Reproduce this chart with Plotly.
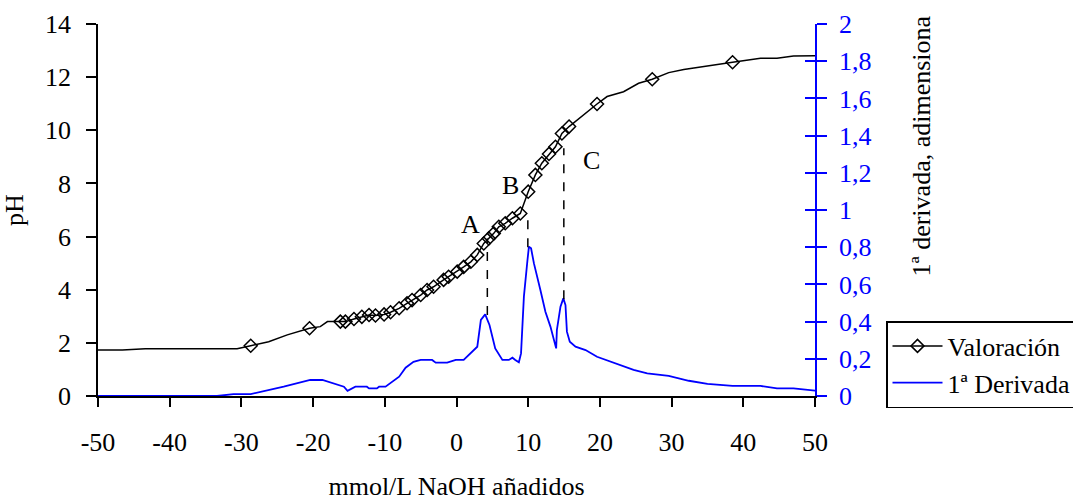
import plotly.graph_objects as go

# ---- data ----
# Titration markers (mmol/L NaOH, pH)
val_x = [-28.7, -20.5, -16.2, -15.5, -14.3, -13.2, -12.2, -11.3, -10.1, -9.2, -8.0, -6.9, -6.2,
         -5.0, -4.1, -3.2, -1.8, -1.1, 0.1, 1.0, 2.0, 2.9, 3.8, 4.5, 5.2, 5.9, 6.8, 7.8, 8.9,
         10.0, 11.0, 11.9, 12.9, 13.8, 14.7, 15.7, 19.6, 27.3, 38.5]
val_ph = [1.89, 2.55, 2.80, 2.80, 2.90, 2.98, 3.05, 3.03, 3.07, 3.15, 3.30, 3.49, 3.61,
          3.80, 3.99, 4.11, 4.37, 4.49, 4.68, 4.86, 5.05, 5.31, 5.74, 5.93, 6.12, 6.37, 6.50, 6.69, 6.87,
          7.69, 8.32, 8.76, 9.11, 9.38, 9.88, 10.14, 10.99, 11.92, 12.56]
# Additional vertices of the titration line (no marker)
line_x = [-50.7, -46.6, -43.4, -30.6, -26.2, -23.6, -19.0, -18.0, 21.0, 23.3, 25.4,
          29.6, 31.7, 35.0, 42.4, 44.7, 47.0, 51.0]
line_ph = [1.73, 1.73, 1.78, 1.78, 2.04, 2.30, 2.61, 2.80, 11.27, 11.45, 11.77,
           12.17, 12.29, 12.43, 12.71, 12.71, 12.80, 12.81]

# First derivative
der_x = [-50.7, -33.4, -31.1, -28.7, -24.1, -20.4, -18.7, -17.1, -15.7, -15.2, -14.1, -12.5, -12.2,
         -11.1, -10.8, -9.9, -8.0, -7.1, -6.0, -5.0, -3.4, -2.9, -1.3, -0.1, 1.0, 2.9, 3.1, 3.4,
         4.0, 4.6, 5.4, 6.4, 7.3, 7.8, 8.2, 8.7, 9.0, 9.4, 9.9, 10.1, 10.4, 10.8, 11.7, 12.4,
         13.1, 13.7, 13.9, 14.0, 14.5, 14.9, 15.2, 15.4, 15.8, 16.6, 18.0, 19.6, 24.7, 26.6,
         28.5, 29.6, 32.4, 35.0, 38.5, 42.4, 44.7, 47.0, 50.3]
der_y = [0, 0, 0.01, 0.01, 0.05, 0.086, 0.086, 0.065, 0.05, 0.028, 0.05, 0.05, 0.041,
         0.041, 0.05, 0.05, 0.104, 0.152, 0.184, 0.194, 0.194, 0.179, 0.179, 0.194, 0.194, 0.265, 0.319, 0.409,
         0.439, 0.382, 0.256, 0.194, 0.194, 0.206, 0.194, 0.181, 0.229, 0.534, 0.731, 0.803, 0.794, 0.713, 0.570, 0.453,
         0.373, 0.274, 0.256, 0.355, 0.480, 0.525, 0.489, 0.346, 0.292, 0.265, 0.247, 0.211, 0.140, 0.122,
         0.113, 0.108, 0.082, 0.065, 0.054, 0.054, 0.041, 0.041, 0.028]

# Equivalence points: x, pH on titration curve, derivative peak value
eq_labels = ["A", "B", "C"]
eq_x = [4.3, 9.95, 14.97]
eq_ph = [5.93, 6.87, 9.32]
eq_der = [0.435, 0.80, 0.52]
lab_x = [2.0, 7.6, 18.8]
lab_ph = [6.44, 7.94, 8.88]

x_ticks = [-50, -40, -30, -20, -10, 0, 10, 20, 30, 40, 50]

PH_RANGE = [0, 14]
DER_RANGE = [0, 2]

FONT = "Liberation Serif"
FS = 26

# merge line vertices
pts = sorted(list(zip(val_x, val_ph)) + list(zip(line_x, line_ph)))
lx = [p[0] for p in pts]
ly = [p[1] for p in pts]

fig = go.Figure()
fig.add_trace(go.Scatter(x=lx, y=ly, mode="lines", line=dict(color="black", width=1.5),
                         showlegend=False, hoverinfo="skip"))
fig.add_trace(go.Scatter(x=val_x, y=val_ph, mode="markers",
                         marker=dict(symbol="diamond-open", size=10, color="black",
                                     line=dict(width=1.5, color="black")),
                         showlegend=False))
fig.add_trace(go.Scatter(x=[None], y=[None], mode="lines+markers", name="Valoración",
                         line=dict(color="black", width=1.5),
                         marker=dict(symbol="diamond-open", size=10, color="black",
                                     line=dict(width=1.5, color="black")),
                         legendgroup="a"))
fig.add_trace(go.Scatter(x=der_x, y=der_y, mode="lines", name="1ª Derivada", yaxis="y2",
                         line=dict(color="#0000FF", width=1.8), legendgroup="b"))

scale = (PH_RANGE[1] - PH_RANGE[0]) / (DER_RANGE[1] - DER_RANGE[0])
for xv, top, bot in zip(eq_x, eq_ph, eq_der):
    fig.add_shape(type="line", xref="x", yref="y", x0=xv, x1=xv, y0=bot * scale, y1=top,
                  line=dict(color="black", width=1.5, dash="dash"))
for t, xv, yv in zip(eq_labels, lab_x, lab_ph):
    fig.add_annotation(x=xv, y=yv, xref="x", yref="y", text=t, showarrow=False,
                       font=dict(family=FONT, size=FS, color="black"))

fig.add_annotation(text="1ª derivada, adimensiona", xref="paper", yref="paper",
                   x=(921 - 98) / 717, y=(396 - 279) / 372, xanchor="center", yanchor="bottom",
                   textangle=-90, showarrow=False, font=dict(family=FONT, size=FS, color="black"))

fig.update_layout(
    width=1073, height=501,
    margin=dict(l=98, r=258, t=24, b=105, autoexpand=False),
    paper_bgcolor="white", plot_bgcolor="white",
    separators=",.",
    font=dict(family=FONT, size=FS, color="black"),
    xaxis=dict(range=[-50, 50], tickvals=x_ticks, ticktext=[str(v) for v in x_ticks],
               showgrid=False, zeroline=False, showline=True, linecolor="black", linewidth=1.5,
               ticks="outside", ticklen=9, tickwidth=1.5, tickcolor="black",
               ticklabelstandoff=13,
               title=dict(text="mmol/L NaOH añadidos", standoff=32, font=dict(size=FS))),
    yaxis=dict(range=PH_RANGE, dtick=2, showgrid=False, zeroline=False, showline=True,
               linecolor="black", linewidth=1.5, ticks="outside", ticklen=10, tickwidth=1.5,
               tickcolor="black", ticklabelstandoff=10,
               title=dict(text="pH", standoff=20, font=dict(size=FS))),
    yaxis2=dict(range=DER_RANGE, dtick=0.2, overlaying="y", side="right", anchor="x",
                showgrid=False, zeroline=False, showline=True, linecolor="#0000FF", linewidth=1.5,
                ticks="outside", ticklen=10, tickwidth=1.5, tickcolor="#0000FF",
                tickfont=dict(color="#0000FF", size=FS), ticklabelstandoff=7),
    yaxis3=dict(range=DER_RANGE, dtick=0.2, overlaying="y", side="right", anchor="x",
                showgrid=False, zeroline=False, showline=False, showticklabels=False,
                ticks="inside", ticklen=10, tickwidth=1.5, tickcolor="#0000FF"),
    legend=dict(x=(886 - 98) / 717, y=(396 - 321) / 372, xanchor="left", yanchor="top",
                bgcolor="white", bordercolor="black", borderwidth=1.5,
                font=dict(family=FONT, size=FS, color="black"),
                itemwidth=50, tracegroupgap=0, traceorder="grouped"),
)
# dummy trace so yaxis3 is drawn
fig.add_trace(go.Scatter(x=[None], y=[None], yaxis="y3", showlegend=False))

fig.write_html("out.html")
